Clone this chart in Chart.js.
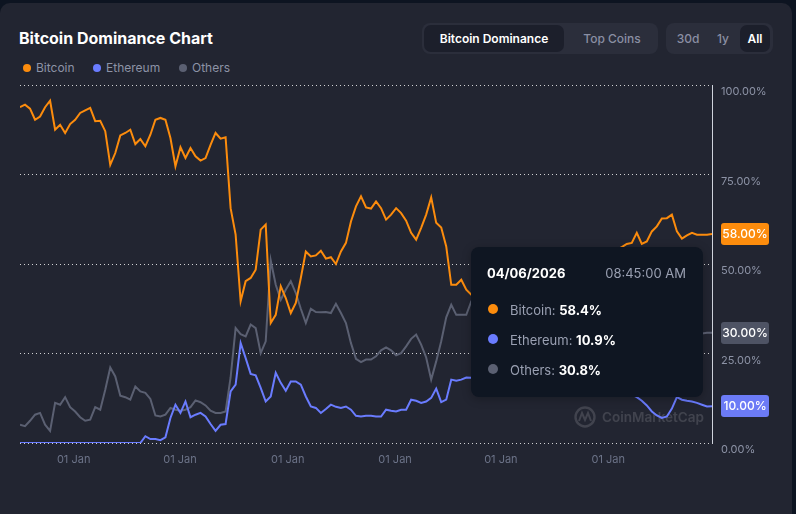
<!DOCTYPE html>
<html lang="en">
<head>
<meta charset="UTF-8" />
<title>Bitcoin Dominance Chart</title>
<script src="https://cdn.jsdelivr.net/npm/chart.js"></script>
<style>
  html, body { margin: 0; padding: 0; background: #0d1421; }
  body { width: 796px; height: 514px; position: relative; overflow: hidden; font-family: Inter, "Noto Sans", sans-serif; }
  .card { position: absolute; left: 0; top: 3px; width: 792px; height: 530px; background: #222531; border-radius: 10px; }
  #chart { position: absolute; left: 0; top: 0; z-index: 1; }
  .title { position: absolute; left: 19px; top: 28px; line-height: 20px; color: #fff; font-size: 16px; font-weight: 700; }
  .legend { position: absolute; top: 60px; line-height: 16px; font-size: 12px; color: #8d93a6; }
  .dot { position: absolute; width: 8px; height: 8px; border-radius: 50%; top: 4px; left: -13px; }
  .group { position: absolute; top: 23px; height: 31px; background: #2b2e3b; border-radius: 8px; }
  .btn { position: absolute; top: 0; height: 31px; line-height: 31px; font-size: 12px; font-weight: 500; color: #8a8fa3; text-align: center; }
  .btn.on { top: 2px; height: 27px; line-height: 27px; background: #1c1f2b; border-radius: 7px; color: #fff; font-weight: 600; }
  .tip { position: absolute; left: 471px; top: 247px; width: 232px; height: 150px; background: #0f1622; border-radius: 8px; z-index: 2; color: #9aa0b2; font-size: 13px; box-shadow: 0 2px 10px rgba(0,0,0,0.25); }
  .tip span { position: absolute; line-height: 16px; white-space: nowrap; }
  .tip b { color: #fff; font-weight: 700; }
  .tip i { position: absolute; width: 10px; height: 10px; border-radius: 50%; left: 17px; }
</style>
</head>
<body>
<div class="card"></div>
<div class="title">Bitcoin Dominance Chart</div>
<div class="legend" style="left:36px"><i class="dot" style="background:#fc8c0d"></i>Bitcoin</div>
<div class="legend" style="left:106px"><i class="dot" style="background:#6a7cff"></i>Ethereum</div>
<div class="legend" style="left:192px"><i class="dot" style="background:#5b6072"></i>Others</div>

<div class="group" style="left:422px; width:236px">
  <div class="btn on" style="left:2px; width:140px">Bitcoin Dominance</div>
  <div class="btn" style="left:150px; width:80px">Top Coins</div>
</div>
<div class="group" style="left:666px; width:107px">
  <div class="btn" style="left:8px; width:28px">30d</div>
  <div class="btn" style="left:44px; width:26px">1y</div>
  <div class="btn on" style="left:74px; width:30px">All</div>
</div>

<canvas id="chart" width="796" height="514"></canvas>

<div class="tip" id="tip"></div>

<script>
// dominance (%) sampled at even steps from the first record to 04/06/2026
const bitcoin = [
  93.8, 94.5, 93.4, 90.3, 91.2, 93.8, 95.6, 87.5, 88.9, 86.6, 89.1, 90.3, 92.2, 92.9, 93.6, 89.9,
  90.0, 87.1, 77.7, 81.0, 85.9, 86.6, 87.5, 83.5, 84.9, 82.9, 86.1, 90.3, 90.8, 90.3, 85.2, 77.3,
  82.6, 79.6, 82.4, 80.1, 78.9, 79.6, 83.3, 86.6, 85.0, 85.4, 65.6, 58.2, 39.6, 45.2, 46.1,
  48.4, 59.6, 61.0, 33.5, 35.8, 43.8, 40.5, 36.3, 39.1, 46.1, 53.5, 52.1, 52.4, 53.7, 51.5, 51.9,
  50.0, 53.5, 55.9, 61.9, 66.1, 68.9, 65.8, 65.5, 67.5, 65.6, 62.4, 63.8, 65.6, 64.2, 62.1, 58.7,
  56.8, 60.1, 63.8, 68.6, 61.5, 60.2, 54.9, 44.2, 44.2, 45.6, 42.8, 41.4,
  40.5, 41.5, 42.0, 43.0, 42.5, 43.5, 44.5, 45.0, 46.0, 46.5, 47.0, 46.5, 47.5, 48.0, 48.5, 49.5,
  49.0, 50.0, 50.5, 51.5, 51.0, 52.0, 52.5, 53.0, 52.5, 53.5, 54.0, 53.5, 54.0,
  54.7, 55.6, 55.9, 58.7, 55.6, 56.3, 59.1, 60.5, 62.7, 62.8, 63.8, 59.1, 57.1, 58.0, 58.7, 58.2,
  58.2, 58.2, 58.4
];
const ethereum = [
  0, 0, 0, 0, 0, 0, 0, 0, 0, 0, 0, 0, 0, 0, 0, 0, 0, 0, 0, 0, 0, 0, 0, 0, 0,
  1.9, 1.1, 1.1, 0.8, 1.6, 7.0, 10.7, 8.4, 11.6, 7.2, 7.9, 8.4, 7.4, 5.3, 3.4, 5.1, 5.3, 14.4,
  16.3, 27.9, 23.7, 19.3,
  18.9, 15.4, 11.6, 13.0, 19.6, 16.8, 14.6, 17.2, 17.2, 16.3, 13.0, 10.2, 9.8, 8.4, 9.5, 10.7,
  10.1, 9.8, 10.2, 9.3, 7.6, 7.4, 7.6, 7.6, 7.4, 7.4, 9.3, 9.0, 8.8, 9.3, 9.3, 12.1, 11.8, 11.2,
  11.6, 12.6, 15.2, 11.4, 12.1, 17.7, 17.4, 17.7, 18.3, 18.2,
  18.5, 19.0, 18.0, 17.5, 18.0, 19.0, 18.5, 17.5, 17.0, 17.5, 18.0, 17.0, 16.5, 17.0, 17.5, 16.5,
  16.0, 16.5, 17.0, 16.0, 15.5, 16.0, 15.5, 15.0, 15.5, 14.5, 15.0, 14.5, 14.0, 14.5, 14.0, 13.5,
  12.8, 11.8, 10.5, 8.8, 7.7, 7.0, 7.4, 9.6, 12.8, 12.1, 11.8, 11.6, 11.2, 10.7, 10.2, 10.3
];
const others = [
  5.1, 4.7, 6.2, 7.9, 8.4, 5.1, 3.4, 11.2, 10.7, 12.8, 10.0, 8.8, 7.2, 6.2, 6.5, 10.0, 9.3, 14.9,
  21.1, 18.6, 13.2, 12.8, 12.1, 15.8, 14.4, 14.0, 12.3, 7.7, 7.4, 7.9, 9.8, 9.3, 9.0, 9.3, 10.0,
  11.9, 11.4, 10.5, 9.0, 8.4, 8.4, 8.8, 18.3, 32.1, 30.4, 29.8, 33.1,
  32.1, 25.1, 28.4, 51.0, 44.2, 40.0, 42.8, 45.2, 41.9, 37.5, 33.5, 37.5, 36.6, 36.5, 36.6, 36.3,
  38.9, 36.3, 33.5, 27.9, 23.5, 22.6, 23.3, 23.3, 24.2, 25.9, 26.7, 25.9, 24.5, 25.1, 27.0, 29.1,
  30.3, 27.5, 23.9, 17.7, 22.8, 28.4, 35.1, 38.6, 35.8, 35.8, 35.8, 39.6,
  40.0, 41.0, 39.5, 38.5, 39.0, 40.5, 41.5, 40.0, 38.5, 37.5, 38.0, 37.0, 36.0, 35.5, 36.5, 35.0,
  34.0, 34.5, 33.5, 33.0, 33.5, 32.5, 32.0, 32.5, 31.5, 31.0, 31.5, 30.5, 30.0, 30.5, 31.0, 29.5,
  29.0, 28.5, 29.5, 30.0, 29.5, 29.0, 28.5, 29.5, 30.0, 30.5, 31.0, 30.5,
  30.7, 30.6, 30.8, 30.8
];

const seriesNames = ['Bitcoin', 'Ethereum', 'Others'];
const seriesColors = ['#fc8c0d', '#6a7cff', '#5b6072'];
const badgeColors = ['#fc8c0d', '#6c7bf6', '#4e5364'];
const badgeLabels = ['58.00%', '10.00%', '30.00%'];

// "01 Jan" marks, in sample steps
const janTicks = [10.7, 31.9, 53.4, 74.8, 95.9, 117.3];
const janLabel = '01 Jan';
const yTicks = [0, 25, 50, 75, 100];

const tipDate = '04/06/2026';
const tipTime = '08:45:00 AM';
const tipValues = [58.4, 10.9, 30.8];

const steps = bitcoin.map((v, i) => i);
const last = steps.length - 1;

// tooltip box
const tip = document.getElementById('tip');
let html = `<span style="left:16px; top:18px; color:#fff; font-weight:700">${tipDate}</span>` +
           `<span style="right:17px; top:18px">${tipTime}</span>`;
seriesNames.forEach((n, k) => {
  const y = 55 + k * 30;
  html += `<i style="top:${y + 2}px; background:${seriesColors[k]}"></i>` +
          `<span style="left:39px; top:${y}px">${n}: <b>${tipValues[k].toFixed(1)}%</b></span>`;
});
tip.innerHTML = html;

Chart.defaults.font.family = 'Inter';

const extras = {
  id: 'extras',
  beforeDatasetsDraw(chart) {
    // CoinMarketCap watermark
    const ctx = chart.ctx;
    ctx.save();
    ctx.strokeStyle = 'rgba(255,255,255,0.14)';
    ctx.fillStyle = 'rgba(255,255,255,0.14)';
    ctx.lineWidth = 2.4;
    ctx.beginPath();
    ctx.arc(585, 417, 9.5, 0, Math.PI * 2);
    ctx.stroke();
    ctx.lineWidth = 2;
    ctx.beginPath();
    ctx.moveTo(579, 421);
    ctx.lineTo(582, 413);
    ctx.lineTo(585, 420);
    ctx.lineTo(588, 413);
    ctx.lineTo(591, 421);
    ctx.stroke();
    ctx.font = '600 13.5px Inter';
    ctx.textBaseline = 'middle';
    ctx.fillText('CoinMarketCap', 602, 417.5);
    ctx.restore();
  },
  afterDatasetsDraw(chart) {
    const ctx = chart.ctx;
    const x = Math.round(chart.scales.x.getPixelForValue(last)) + 0.5;
    ctx.save();
    ctx.strokeStyle = '#cfd3dc';
    ctx.lineWidth = 1;
    ctx.beginPath();
    ctx.moveTo(x, chart.chartArea.top);
    ctx.lineTo(x, chart.chartArea.bottom + 1);
    ctx.stroke();
    ctx.restore();
  },
  afterDraw(chart) {
    const ctx = chart.ctx;
    const ys = chart.scales.y;
    ctx.save();
    chart.data.datasets.forEach((ds, k) => {
      const y = ys.getPixelForValue(ds.data[last]);
      ctx.fillStyle = badgeColors[k];
      ctx.beginPath();
      ctx.roundRect(721, Math.round(y - 11), 48, 22, 3);
      ctx.fill();
      ctx.fillStyle = '#fff';
      ctx.font = '500 12px Inter';
      ctx.textAlign = 'center';
      ctx.textBaseline = 'middle';
      ctx.fillText(badgeLabels[k], 745, Math.round(y) + 0.5);
    });
    ctx.restore();
  }
};

new Chart(document.getElementById('chart'), {
  type: 'line',
  data: {
    labels: steps,
    datasets: [bitcoin, ethereum, others].map((d, k) => ({
      label: seriesNames[k],
      data: d,
      borderColor: seriesColors[k],
      borderWidth: 2,
      pointRadius: 0,
      tension: 0,
      fill: false
    }))
  },
  options: {
    responsive: false,
    animation: false,
    layout: { padding: { left: 20, top: 85, right: 0, bottom: 0 } },
    plugins: { legend: { display: false }, tooltip: { enabled: false } },
    scales: {
      x: {
        type: 'linear',
        min: 0,
        max: last,
        grid: { display: false, drawTicks: false },
        border: { display: false },
        afterBuildTicks: (s) => { s.ticks = janTicks.map(v => ({ value: v })); },
        afterFit: (s) => { s.height = 71; },
        ticks: {
          autoSkip: false,
          maxRotation: 0,
          padding: 10,
          color: '#6c7388',
          font: { size: 11 },
          callback: () => janLabel
        }
      },
      y: {
        position: 'right',
        min: 0,
        max: 100,
        afterBuildTicks: (s) => { s.ticks = yTicks.map(v => ({ value: v })); },
        afterFit: (s) => { s.width = 84; },
        grid: { color: 'rgba(255,255,255,0.8)', lineWidth: 1, drawTicks: false },
        border: { display: false, dash: [1, 3] },
        ticks: {
          padding: 9,
          labelOffset: 7,
          color: '#8d93a6',
          font: { size: 11 },
          callback: (v) => v.toFixed(2) + '%'
        }
      }
    }
  },
  plugins: [extras]
});
</script>
</body>
</html>
